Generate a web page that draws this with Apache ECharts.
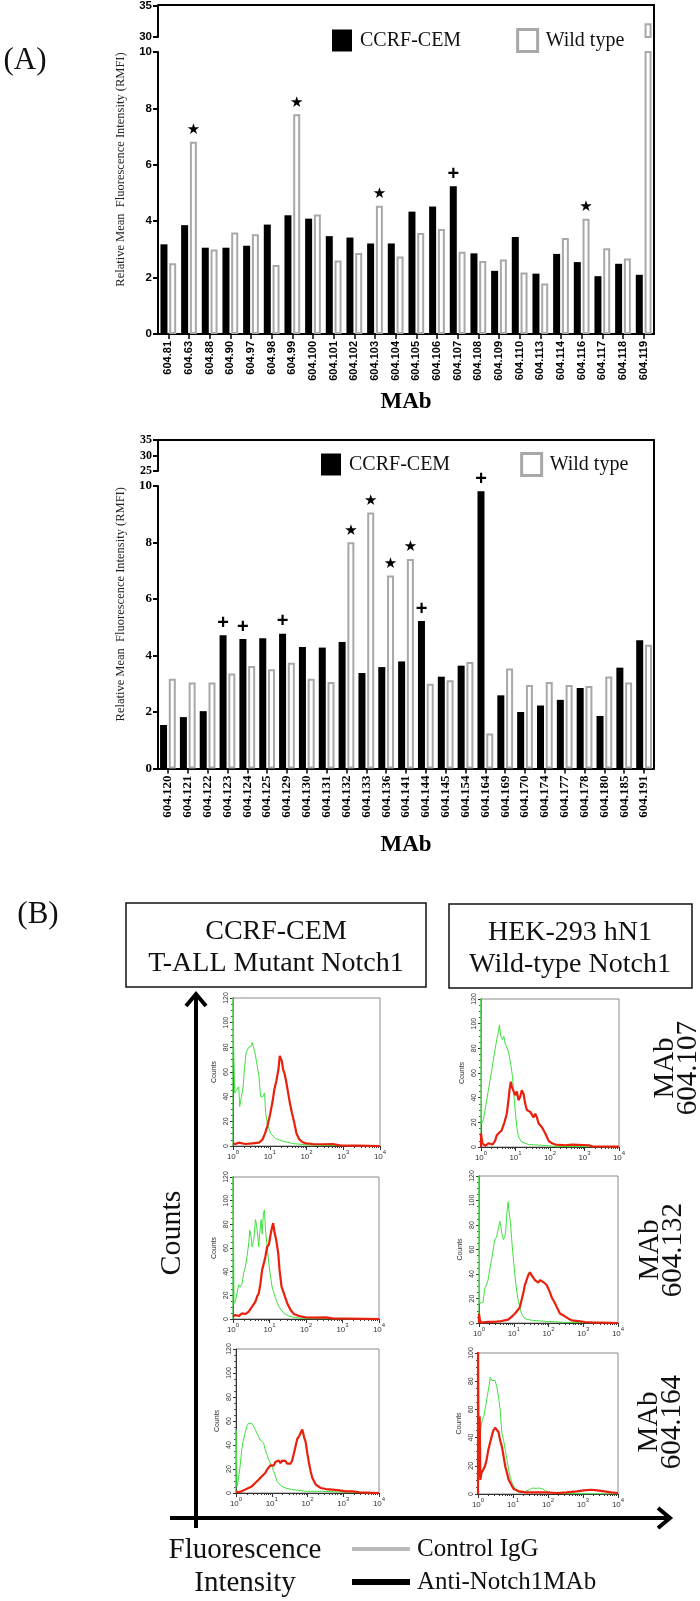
<!DOCTYPE html>
<html><head><meta charset="utf-8">
<script src="https://cdn.jsdelivr.net/npm/echarts@6/dist/echarts.min.js"></script>
<style>html,body{margin:0;padding:0;background:#fff}#c{width:700px;height:1601px}</style>
</head><body><div id="c"></div>
<script>
// ---------- DATA: panel A (bar charts) ----------
const topCats = ['604.81','604.63','604.88','604.90','604.97','604.98','604.99','604.100','604.101','604.102','604.103','604.104','604.105','604.106','604.107','604.108','604.109','604.110','604.113','604.114','604.116','604.117','604.118','604.119'];
const topCcrf = [3.18,3.86,3.06,3.06,3.13,3.88,4.21,4.09,3.47,3.42,3.21,3.21,4.34,4.52,5.24,2.86,2.24,3.44,2.14,2.84,2.55,2.05,2.49,2.10];
const topWild = [2.51,6.82,3.00,3.60,3.54,2.45,7.79,4.24,2.61,2.87,4.55,2.75,3.58,3.72,2.92,2.59,2.64,2.18,1.79,3.40,4.09,3.04,2.68,32.2];
const topStars = ['604.63','604.99','604.103','604.116'];
const topPlus = ['604.107'];

const botCats = ['604.120','604.121','604.122','604.123','604.124','604.125','604.129','604.130','604.131','604.132','604.133','604.136','604.141','604.144','604.145','604.154','604.164','604.169','604.170','604.174','604.177','604.178','604.180','604.185','604.191'];
const botCcrf = [1.54,1.82,2.03,4.72,4.58,4.61,4.77,4.30,4.28,4.48,3.38,3.59,3.79,5.22,3.25,3.64,9.81,2.59,2.00,2.23,2.43,2.85,1.86,3.57,4.54];
const botWild = [3.18,3.04,3.04,3.36,3.63,3.51,3.74,3.18,3.06,8.01,9.06,6.83,7.42,3.00,3.12,3.77,1.24,3.54,2.96,3.06,2.96,2.92,3.26,3.04,4.38];
const botStars = ['604.132','604.133','604.136','604.141'];
const botPlus = ['604.123','604.124','604.129','604.144','604.164'];

// ---------- DATA: panel B (histograms; x = log10 intensity, y = counts) ----------
const h1Green = [[0,0],[0,130],[0.018,80],[0.046,43],[0.11,46],[0.156,48],[0.183,32],[0.229,40],[0.275,48],[0.311,62],[0.357,76],[0.43,80],[0.494,81],[0.522,84],[0.595,76],[0.659,65],[0.705,57],[0.75,40],[0.815,40],[0.86,43],[0.888,27],[0.934,18],[1.025,10],[1.16,6],[1.345,4],[1.62,2],[1.986,1],[2.44,0.5],[3,0.3],[4,0]];
const h1Red = [[0,2],[0.064,1.6],[0.156,2.7],[0.339,1.6],[0.522,2.2],[0.705,2.7],[0.796,4.9],[0.87,10],[0.934,16],[0.998,24],[1.071,35],[1.126,46],[1.181,53],[1.236,62],[1.272,73],[1.3,74],[1.327,69],[1.364,62],[1.4,59],[1.437,54],[1.483,46],[1.547,35],[1.602,27],[1.666,19],[1.73,10],[1.803,5.5],[1.895,3],[1.986,2.2],[2.169,1.6],[2.444,1.4],[2.719,1.6],[2.9,0.5],[3.36,0.3],[4,0]];
const h2Green = [[0,0],[0,130],[0.019,19],[0.068,22],[0.117,30],[0.165,38],[0.214,46],[0.262,54],[0.311,62],[0.359,71],[0.408,79],[0.456,87],[0.505,94],[0.534,99],[0.573,90],[0.621,87],[0.66,90],[0.699,84],[0.748,81],[0.796,77],[0.825,73],[0.874,65],[0.913,57],[0.951,43],[0.99,30],[1.039,16],[1.087,8],[1.184,4],[1.379,2],[1.767,1.4],[2.155,0.5],[3,0.3],[4,0]];
const h2Red = [[0,0],[0,11],[0.039,3],[0.117,1],[0.214,3],[0.262,4],[0.33,2],[0.408,5],[0.456,9.5],[0.505,11],[0.602,13.6],[0.68,20],[0.748,27],[0.796,38],[0.825,46],[0.864,53],[0.893,49],[0.942,47.5],[0.99,42],[1.039,45],[1.087,38],[1.136,40.7],[1.184,46],[1.233,43],[1.282,35],[1.33,30],[1.379,31],[1.427,28.5],[1.476,30],[1.524,24],[1.573,27],[1.621,24],[1.67,19],[1.767,16],[1.864,11],[1.961,5],[2.058,3],[2.155,2],[2.447,1.4],[2.641,1.9],[3.126,1.4],[3.175,2.8],[3.223,0.5],[4,0.3]];
const h3Green = [[0,0],[0,130],[0.028,13],[0.064,14.7],[0.11,22],[0.156,29],[0.202,27],[0.248,30],[0.294,39],[0.339,44],[0.385,53],[0.431,64],[0.459,75],[0.495,70],[0.523,61],[0.569,67],[0.615,84],[0.642,80],[0.679,70],[0.706,61],[0.734,73],[0.771,84],[0.798,72],[0.835,90],[0.862,92],[0.89,75],[0.936,61],[0.982,47],[1.028,36],[1.073,27],[1.165,17.5],[1.257,10.4],[1.394,4.8],[1.532,2.5],[1.716,1.1],[1.991,0.3],[4,0]];
const h3Red = [[0,2],[0.064,3.4],[0.156,2.5],[0.248,4.8],[0.339,4.2],[0.431,6.2],[0.523,10.4],[0.569,11.9],[0.615,14.7],[0.661,19],[0.706,21.7],[0.752,30],[0.798,41.5],[0.844,47],[0.89,53],[0.936,61],[0.982,62.7],[1.028,71],[1.073,78],[1.101,81],[1.138,73],[1.183,67],[1.239,55.6],[1.275,41.5],[1.33,27.4],[1.394,21.7],[1.44,17.5],[1.486,13.3],[1.578,7.6],[1.67,4.2],[1.807,2.5],[1.991,1.4],[2.266,1.1],[2.541,1.4],[2.725,0.6],[4,0]];
const h4Green = [[0,0],[0,130],[0.019,16],[0.067,14.5],[0.116,17],[0.164,28],[0.212,31],[0.26,35],[0.308,43],[0.356,51],[0.405,59],[0.453,68],[0.501,70],[0.549,76],[0.598,83],[0.627,79],[0.665,72],[0.704,68],[0.742,70],[0.771,76],[0.81,92],[0.839,99],[0.867,90],[0.906,82],[0.935,70],[0.983,54],[1.031,40],[1.08,27],[1.128,18.5],[1.176,13],[1.224,7.6],[1.32,3.5],[1.513,2.2],[1.899,1.4],[2.477,0.5],[3.152,0.3],[4,0]];
const h4Red = [[0,0],[0,7.6],[0.029,2],[0.067,0.3],[0.26,1],[0.453,1],[0.646,1.6],[0.839,2.7],[0.935,5],[1.031,7.6],[1.128,11],[1.176,13],[1.224,18.5],[1.272,24],[1.32,31],[1.369,35],[1.417,39],[1.465,41.5],[1.513,39],[1.561,37.6],[1.61,35],[1.658,36],[1.706,33],[1.754,35],[1.802,35],[1.851,33.5],[1.899,33.5],[1.947,31],[1.995,29.5],[2.043,25],[2.092,21],[2.14,18.5],[2.188,16],[2.236,13],[2.284,10.4],[2.333,7.6],[2.381,6.3],[2.429,6.3],[2.477,5],[2.573,3.5],[2.67,2.2],[2.863,1.6],[3.055,0.8],[3.248,0.5],[4,0]];
const h5Green = [[0,0],[0,53],[0.028,5.5],[0.066,11],[0.113,22],[0.16,36],[0.207,44],[0.254,50],[0.301,55.6],[0.348,58],[0.395,57],[0.442,58],[0.489,57],[0.536,53],[0.584,52],[0.631,47],[0.678,44],[0.725,43],[0.772,41.7],[0.819,36],[0.866,32],[0.913,27.8],[0.96,25],[1.007,22],[1.054,18],[1.101,14],[1.148,9.7],[1.195,7.8],[1.289,5.5],[1.384,4.2],[1.572,2.8],[1.76,2.2],[1.948,1.4],[2.419,1.4],[2.889,0.8],[3.36,0.6],[4,0]];
const h5Red = [[0,1.4],[0.066,0.6],[0.16,1.4],[0.254,2.8],[0.348,4.2],[0.442,5.5],[0.489,7],[0.536,8.3],[0.631,11],[0.725,14],[0.819,16.7],[0.866,19.4],[0.913,18],[0.96,23],[1.007,21.7],[1.054,22.8],[1.101,25.8],[1.148,24.4],[1.195,27],[1.242,25],[1.289,27],[1.336,25.8],[1.384,26.7],[1.431,24.4],[1.478,23],[1.525,24.4],[1.572,27],[1.619,33],[1.666,39],[1.713,45],[1.76,47],[1.807,50],[1.854,53],[1.901,47],[1.948,42.5],[1.995,33],[2.042,25],[2.089,18],[2.136,12.5],[2.184,9.7],[2.231,7],[2.278,5.5],[2.372,4.2],[2.513,3.3],[2.701,2.8],[2.889,2.2],[3.078,1.4],[3.266,1.4],[3.454,0.6],[4,0]];
const h6Green = [[0.02,38],[0.068,38],[0.117,52],[0.166,55],[0.215,62],[0.263,69],[0.312,76],[0.351,83],[0.39,80.5],[0.439,79.5],[0.488,80.5],[0.537,76],[0.585,69],[0.634,59.5],[0.683,43],[0.732,38],[0.78,31],[0.829,24],[0.878,17],[0.927,11],[0.976,7.8],[1.024,5.4],[1.073,2.6],[1.171,1.2],[1.268,1.2],[1.366,1.9],[1.463,3],[1.561,4.2],[1.659,4],[1.756,4.2],[1.854,3.5],[1.951,1.9],[2.146,0.7],[2.439,0.3],[4,0]];
const h6Red = [[0,0],[0,110],[0.02,12],[0.049,55],[0.068,10],[0.098,15],[0.146,17],[0.195,19.5],[0.244,24],[0.293,31],[0.341,36],[0.39,40.7],[0.439,45],[0.488,47],[0.537,46],[0.585,44],[0.634,38],[0.683,33.6],[0.732,26.6],[0.78,19.5],[0.829,14.8],[0.878,10],[0.927,7.8],[0.976,5.4],[1.024,3.5],[1.073,2.6],[1.171,1.9],[1.366,1.2],[1.659,1.2],[1.951,1.2],[2.244,0.7],[2.537,1.2],[2.829,1.9],[3.024,2.6],[3.22,3],[3.415,2.6],[3.61,1.9],[3.805,1.2],[4,0.7]];
const histYMax = [120,120,120,120,120,100];
const histGreens = [h1Green,h2Green,h3Green,h4Green,h5Green,h6Green];
const histReds = [h1Red,h2Red,h3Red,h4Red,h5Red,h6Red];
const xTickLabels = ['0','1','2','3','4'];

// ---------- layout / style ----------
const serif = '"Liberation Serif", "Times New Roman", serif';
const sans = '"Liberation Sans", Arial, sans-serif';
const GREEN = '#3ee23e', RED = '#e8200c', GRAYBAR = '#a8a8a8';
const grids = [], xAxes = [], yAxes = [], series = [];
const addGrid = g => (grids.push(g), grids.length - 1);
const addX = a => (xAxes.push(a), xAxes.length - 1);
const addY = a => (yAxes.push(a), yAxes.length - 1);

const starStyle = {show:true, position:'top', distance:4, formatter:'★', fontSize:15, color:'#000', fontFamily:'"DejaVu Sans"'};
const plusStyle = {show:true, position:'top', distance:2, formatter:'+', fontSize:20, fontWeight:'bold', color:'#000', fontFamily:sans};
function marked(cats, vals, marks, style) {
  return vals.map((v, i) => marks.includes(cats[i]) ? {value: v, label: style} : v);
}

function barChart(c) {
  const gU = addGrid({left:158, width:496, top:c.top, height:c.upH});
  const gL = addGrid({left:158, width:496, top:c.lowTop, height:c.lowH});
  const gF = addGrid({left:158, width:496, top:c.top, height:c.lowTop + c.lowH - c.top});
  const yLbl = {margin:6, fontFamily:c.yFont, fontWeight:'bold', color:'#000'};
  const xU = addX({gridIndex:gU, type:'category', data:c.cats, show:false});
  const xL = addX({gridIndex:gL, type:'category', data:c.cats,
    axisLine:{show:true, onZero:false, lineStyle:{color:'#000', width:2}},
    axisTick:{show:true, alignWithLabel:true, length:5, lineStyle:{color:'#000', width:1.5}},
    axisLabel:{interval:0, rotate:90, margin:7, fontFamily:c.xFont, fontWeight:'bold', fontSize:c.xSize, color:'#000'},
    name:'MAb', nameLocation:'middle', nameGap:c.nameGap,
    nameTextStyle:{fontFamily:serif, fontWeight:'bold', fontSize:23, color:'#000'}});
  addX({gridIndex:gF, type:'value', position:'top', min:0, max:1,
    axisLine:{show:true, onZero:false, lineStyle:{color:'#000', width:2}}, axisTick:{show:false}, axisLabel:{show:false}, splitLine:{show:false}});
  const yU = addY({gridIndex:gU, type:'value', min:c.upMin, max:c.upMax, interval:5,
    axisLine:{show:true, onZero:false, lineStyle:{color:'#000', width:2}},
    axisTick:{show:true, length:5, lineStyle:{color:'#000', width:2}},
    axisLabel:Object.assign({fontSize:c.yUpSize}, yLbl), splitLine:{show:false}});
  const yL = addY({gridIndex:gL, type:'value', min:0, max:10, interval:2,
    axisLine:{show:true, onZero:false, lineStyle:{color:'#000', width:2}},
    axisTick:{show:true, length:5, lineStyle:{color:'#000', width:2}},
    axisLabel:Object.assign({fontSize:c.ySize}, yLbl), splitLine:{show:false}});
  addY({gridIndex:gF, type:'value', min:0, max:1, axisLine:{show:false}, axisTick:{show:false}, axisLabel:{show:false}, splitLine:{show:false},
    name:'Relative Mean  Fluorescence Intensity (RMFI)', nameLocation:'middle', nameGap:31,
    nameTextStyle:{fontFamily:serif, fontSize:12.5, color:'#222'}});
  addY({gridIndex:gF, type:'value', position:'right', min:0, max:1,
    axisLine:{show:true, onZero:false, lineStyle:{color:'#000', width:2}}, axisTick:{show:false}, axisLabel:{show:false}, splitLine:{show:false}});
  const blk = {type:'bar', name:'CCRF-CEM', barWidth:7, barGap:'25%', clip:true, itemStyle:{color:'#000'}};
  const wld = {type:'bar', name:'Wild type', barWidth:7, barGap:'25%', clip:true, itemStyle:{color:'#fff', borderColor:GRAYBAR, borderWidth:2}};
  series.push(Object.assign({xAxisIndex:xU, yAxisIndex:yU, data:c.ccrf}, blk));
  series.push(Object.assign({xAxisIndex:xU, yAxisIndex:yU, data:c.wild}, wld));
  series.push(Object.assign({xAxisIndex:xL, yAxisIndex:yL, data:marked(c.cats, c.ccrf, c.plus, plusStyle)}, blk));
  series.push(Object.assign({xAxisIndex:xL, yAxisIndex:yL, data:marked(c.cats, c.wild, c.stars, starStyle)}, wld));
}

barChart({cats:topCats, ccrf:topCcrf, wild:topWild, stars:topStars, plus:topPlus,
  top:5, upH:32, lowTop:52, lowH:282, upMin:30, upMax:35, nameGap:57,
  xFont:sans, xSize:11, yFont:sans, ySize:11.5, yUpSize:11.5});
barChart({cats:botCats, ccrf:botCcrf, wild:botWild, stars:botStars, plus:botPlus,
  top:440, upH:31, lowTop:486, lowH:282.5, upMin:25, upMax:35, nameGap:65,
  xFont:serif, xSize:13, yFont:serif, ySize:13, yUpSize:12});

// ---------- histograms ----------
const histBoxes = [
  {left:233, top:998, width:147, height:148},
  {left:481, top:999, width:138, height:148},
  {left:233, top:1177, width:146, height:142},
  {left:479, top:1176, width:139, height:147},
  {left:236, top:1349, width:143, height:144},
  {left:478, top:1353, width:140, height:141}
];
const minorLog = [];
for (let d = 0; d < 4; d++) for (let k = 2; k <= 9; k++) minorLog.push(d + Math.log10(k));

histBoxes.forEach((b, i) => {
  const g = addGrid(Object.assign({show:true, borderColor:'#8a8a8a', borderWidth:1, backgroundColor:'transparent'}, b));
  const xa = addX({gridIndex:g, type:'value', min:0, max:4, interval:1,
    axisLine:{show:true, onZero:false, lineStyle:{color:'#333', width:1}},
    axisTick:{show:true, length:4, lineStyle:{color:'#333'}},
    axisLabel:{margin:3, formatter:v => '{b|10}{s|' + xTickLabels[v] + '}',
      rich:{b:{fontSize:8, fontFamily:sans, color:'#333', lineHeight:12, verticalAlign:'bottom'},
            s:{fontSize:6, fontFamily:sans, color:'#333', lineHeight:12, verticalAlign:'top'}}},
    splitLine:{show:false}});
  addX({gridIndex:g, type:'value', min:0, max:4, position:'bottom',
    axisLine:{show:false, onZero:false}, axisLabel:{show:false}, splitLine:{show:false},
    axisTick:{show:true, length:2, customValues:minorLog, lineStyle:{color:'#333'}}});
  const ya = addY({gridIndex:g, type:'value', min:0, max:histYMax[i], interval:20,
    axisLine:{show:true, onZero:false, lineStyle:{color:'#333', width:1}},
    axisTick:{show:true, length:3, lineStyle:{color:'#333'}},
    minorTick:{show:true, splitNumber:4, length:2, lineStyle:{color:'#555'}},
    axisLabel:{rotate:90, fontSize:7, margin:3, color:'#333', fontFamily:sans},
    splitLine:{show:false},
    name:'Counts', nameLocation:'middle', nameGap:15, nameRotate:90,
    nameTextStyle:{fontSize:7, fontFamily:sans, color:'#333'}});
  series.push({type:'line', name:'Control IgG', xAxisIndex:xa, yAxisIndex:ya, data:histGreens[i],
    showSymbol:false, symbol:'none', clip:true, lineStyle:{color:GREEN, width:1}});
  series.push({type:'line', name:'Anti-Notch1 MAb', xAxisIndex:xa, yAxisIndex:ya, data:histReds[i],
    showSymbol:false, symbol:'none', clip:true, lineStyle:{color:RED, width:2.2}});
});

// ---------- annotations ----------
const T = (text, x, y, size, extra) => Object.assign({type:'text', x, y,
  style:{text, font:size + 'px ' + serif, fill:'#111', align:'center', verticalAlign:'middle'}}, extra || {});
const graphic = [
  T('(A)', 25, 61, 31),
  T('(B)', 38, 915, 31),
  {type:'rect', shape:{x:126, y:903, width:300, height:84}, style:{fill:'none', stroke:'#111', lineWidth:1.5}},
  {type:'rect', shape:{x:449, y:904, width:243, height:84}, style:{fill:'none', stroke:'#111', lineWidth:1.5}},
  T('CCRF-CEM', 276, 932, 28), T('T-ALL Mutant Notch1', 276, 964, 28),
  T('HEK-293 hN1', 570, 933, 28), T('Wild-type Notch1', 570, 965, 28),
  {type:'line', shape:{x1:196, y1:1528, x2:196, y2:995}, style:{stroke:'#000', lineWidth:4}},
  {type:'polyline', shape:{points:[[186,1006],[196,994],[206,1006]]}, style:{stroke:'#000', lineWidth:4, fill:'none'}},
  {type:'line', shape:{x1:170, y1:1518, x2:669, y2:1518}, style:{stroke:'#000', lineWidth:4}},
  {type:'polyline', shape:{points:[[658,1508],[670,1518],[658,1528]]}, style:{stroke:'#000', lineWidth:4, fill:'none'}},
  T('Counts', 172, 1233, 30, {rotation:Math.PI/2}),
  T('Fluorescence', 245, 1550, 29), T('Intensity', 245, 1583, 29),
  {type:'line', shape:{x1:352, y1:1549, x2:410, y2:1549}, style:{stroke:'#bbb', lineWidth:4}},
  {type:'line', shape:{x1:352, y1:1582, x2:410, y2:1582}, style:{stroke:'#000', lineWidth:6}},
  {type:'text', x:417, y:1549, style:{text:'Control IgG', font:'25px ' + serif, fill:'#111', align:'left', verticalAlign:'middle'}},
  {type:'text', x:417, y:1582, style:{text:'Anti-Notch1MAb', font:'25px ' + serif, fill:'#111', align:'left', verticalAlign:'middle'}},
  {type:'text', x:677, y:1068, rotation:Math.PI/2, style:{text:'MAb\n604.107', font:'29px ' + serif, lineHeight:23, fill:'#111', align:'center', verticalAlign:'middle'}},
  {type:'text', x:662, y:1250, rotation:Math.PI/2, style:{text:'MAb\n604.132', font:'29px ' + serif, lineHeight:23, fill:'#111', align:'center', verticalAlign:'middle'}},
  {type:'text', x:661, y:1422, rotation:Math.PI/2, style:{text:'MAb\n604.164', font:'29px ' + serif, lineHeight:23, fill:'#111', align:'center', verticalAlign:'middle'}}
];

const legendBase = {orient:'horizontal', padding:0, itemWidth:20, itemHeight:22, selectedMode:false, icon:'rect',
  textStyle:{fontFamily:serif, fontSize:20, color:'#111', padding:[0,0,0,3]},
  data:[{name:'CCRF-CEM', itemStyle:{color:'#000', borderWidth:0}},
        {name:'Wild type', itemStyle:{color:'#fff', borderColor:GRAYBAR, borderWidth:3}}]};

const chart = echarts.init(document.getElementById('c'), null, {renderer:'canvas'});
chart.setOption({
  backgroundColor:'#fff',
  animation:false,
  grid:grids, xAxis:xAxes, yAxis:yAxes, series:series,
  legend:[Object.assign({left:332, top:28, itemGap:55}, legendBase),
          Object.assign({left:321, top:452, itemGap:70}, legendBase)],
  graphic:graphic
});
</script></body></html>
